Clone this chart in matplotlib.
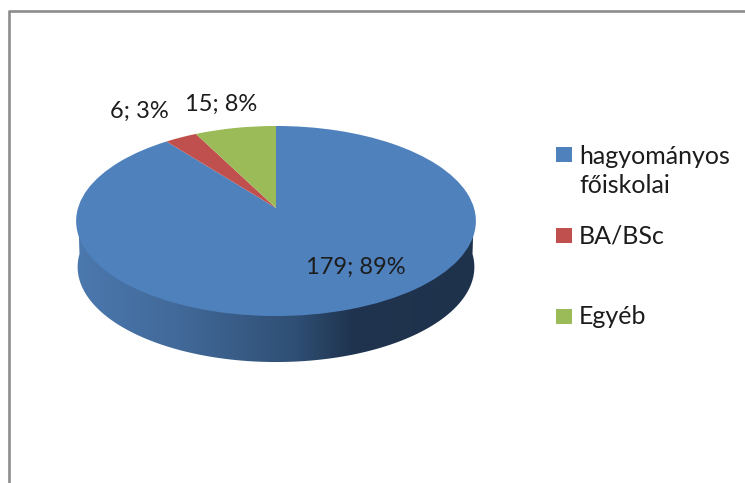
#!/usr/bin/env python
import matplotlib as mpl
mpl.use('Agg')

import matplotlib.pyplot as plt
import numpy as np
from matplotlib.colors import LinearSegmentedColormap
from matplotlib.patches import PathPatch, Rectangle
from matplotlib.path import Path
from matplotlib.transforms import Transform

categories = ['hagyományos\nfőiskolai', 'BA/BSc', 'Egyéb']
values = [179, 6, 15]
percents = [89, 3, 8]
colors = ['#4f81bd', '#c0504d', '#9bbb59']

W, H = 745, 483
dpi = 100.0
font = ['Lato', 'DejaVu Sans']
txt = '#1c1c1c'


class Tilt(Transform):
    # unit circle -> pixel position of the tilted top face
    input_dims = 2
    output_dims = 2

    def __init__(self, radius=198.0, dy=0.0):
        Transform.__init__(self)
        self.radius = radius
        self.dy = dy

    def transform_non_affine(self, xy):
        xy = np.asarray(xy, dtype=float)
        d = 0.1368 * xy[:, 1] + 1
        x = 276 + self.radius * xy[:, 0] / d
        y = (208 - 64.8 * xy[:, 1]) / d + self.dy
        return np.column_stack([x, y])


fig = plt.figure(figsize=(W / dpi, H / dpi), dpi=dpi)
ax = fig.add_axes([0, 0, 1, 1])

wedges, _ = ax.pie(values, colors=colors, startangle=90, counterclock=False, radius=1)
for w in wedges:
    w.set_transform(Tilt() + ax.transData)
    w.set_linewidth(0)
    w.set_zorder(3)

# side wall, dark gradient clipped to the outline
t = np.linspace(np.pi, 2 * np.pi, 120)
unit = np.column_stack([np.cos(t), np.sin(t)])
top = Tilt().transform(unit)
base = Tilt(radius=196.5, dy=46.0).transform(unit)
outline = np.vstack([top[[0, -1]], base[::-1], top[:1]])

wall_cmap = LinearSegmentedColormap.from_list('wall', [
    (0.0, '#4b78ae'), (0.25, '#426a9a'), (0.55, '#2f4f74'), (0.69, '#20344f'), (1.0, '#1f324c')])
im = ax.imshow(np.linspace(0, 1, 256)[None, :], cmap=wall_cmap, aspect='auto',
               extent=[76, 476, 370, 200], zorder=2)
clip = PathPatch(Path(outline), transform=ax.transData, facecolor='none', edgecolor='none')
ax.add_patch(clip)
im.set_clip_path(clip)

ax.set_aspect('auto')
ax.set_xlim(0, W)
ax.set_ylim(H, 0)
ax.axis('off')

# chart frame
ax.plot([8.6, 8.6], [H, 11.3], color='#8c8c8c', lw=1.9, solid_capstyle='butt', zorder=4)
ax.plot([7.6, W], [11.3, 11.3], color='#8c8c8c', lw=1.9, solid_capstyle='butt', zorder=4)

# data labels
label_x = [356, 139, 221]
label_y = [267, 111, 104]
for v, p, x, y in zip(values, percents, label_x, label_y):
    ax.text(x, y, '%d; %d%%' % (v, p), ha='center', va='center', fontsize=17,
            family=font, color=txt, zorder=5)

# legend
legend_y = [154.5, 235.5, 316.5]
text_y = [171, 235.5, 316.5]
for name, col, y, ty in zip(categories, colors, legend_y, text_y):
    ax.add_patch(Rectangle((556, y - 7.5), 15.5, 15, facecolor=col, edgecolor='none'))
    ax.text(579, ty, name, ha='left', va='center', fontsize=18, family=font,
            color=txt, linespacing=1.35)

fig.savefig('out.png', dpi=dpi)
